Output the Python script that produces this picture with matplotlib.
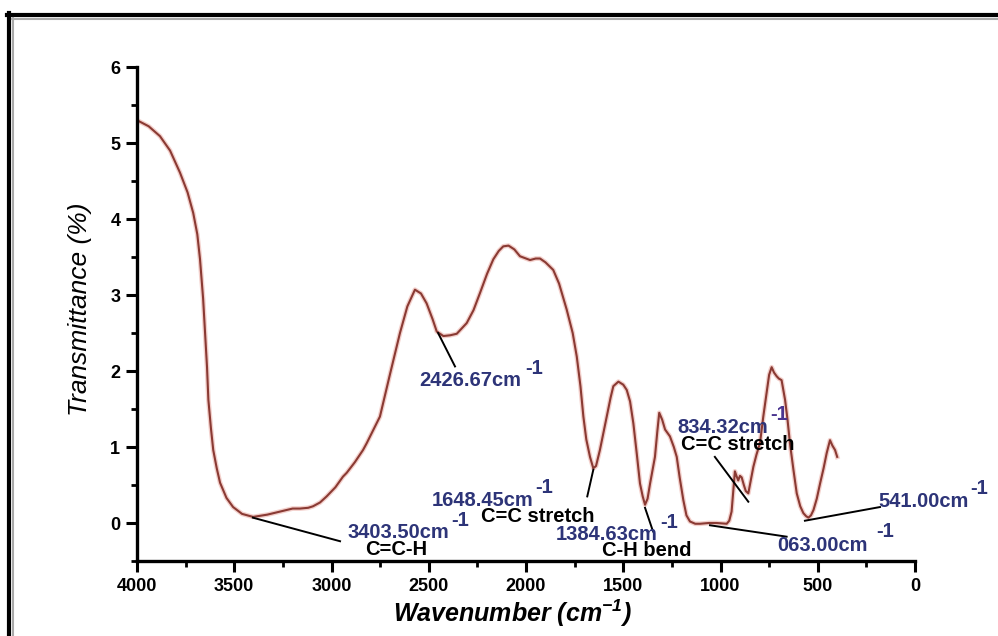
import numpy as np
import matplotlib.pyplot as plt
from matplotlib.lines import Line2D
from matplotlib.ticker import MultipleLocator

plt.rcParams['font.family'] = ['Liberation Sans', 'DejaVu Sans']
plt.rcParams['mathtext.fontset'] = 'custom'
plt.rcParams['mathtext.rm'] = 'Liberation Sans:bold:italic'
plt.rcParams['mathtext.it'] = 'Liberation Sans:bold:italic'
plt.rcParams['mathtext.bf'] = 'Liberation Sans:bold:italic'

# FTIR spectrum (wavenumber cm^-1, transmittance %)
wavenumber = [4000, 3940, 3882, 3830, 3779, 3740, 3711, 3690, 3676, 3660, 3650, 3640,
              3633, 3620, 3608, 3590, 3573, 3540, 3506, 3460, 3403, 3330, 3265, 3200,
              3162, 3120, 3095, 3059, 3025, 2980, 2941, 2922, 2880, 2838, 2819, 2790,
              2751, 2700, 2648, 2610, 2571, 2540, 2511, 2480, 2459, 2425, 2390, 2356,
              2305, 2270, 2236, 2200, 2168, 2140, 2117, 2090, 2060, 2031, 1979, 1950,
              1928, 1900, 1860, 1830, 1791, 1760, 1739, 1720, 1705, 1690, 1671, 1654,
              1640, 1620, 1585, 1565, 1551, 1525, 1500, 1482, 1465, 1448, 1430, 1414,
              1400, 1388, 1375, 1362, 1337, 1325, 1315, 1300, 1285, 1260, 1240, 1225,
              1210, 1191, 1175, 1157, 1130, 1105, 1060, 1020, 968, 955, 943, 935, 926,
              918, 909, 900, 891, 880, 870, 857, 845, 831, 815, 797, 780, 763, 750, 737,
              725, 711, 700, 686, 668, 655, 643, 625, 608, 590, 574, 560, 548, 535, 522,
              505, 488, 470, 454, 437, 425, 411, 400]
transmittance = [5.30, 5.22, 5.09, 4.90, 4.61, 4.35, 4.08, 3.80, 3.47, 2.95, 2.50, 2.05,
                 1.62, 1.25, 0.96, 0.72, 0.53, 0.33, 0.21, 0.12, 0.08, 0.11, 0.15, 0.19,
                 0.19, 0.20, 0.22, 0.27, 0.35, 0.47, 0.61, 0.66, 0.80, 0.96, 1.05, 1.20,
                 1.40, 1.95, 2.50, 2.85, 3.07, 3.02, 2.89, 2.68, 2.52, 2.46, 2.47, 2.49,
                 2.63, 2.80, 3.03, 3.28, 3.47, 3.58, 3.64, 3.65, 3.60, 3.51, 3.46, 3.48,
                 3.48, 3.43, 3.33, 3.15, 2.81, 2.50, 2.19, 1.80, 1.40, 1.10, 0.87, 0.72,
                 0.75, 0.96, 1.40, 1.65, 1.80, 1.86, 1.82, 1.75, 1.60, 1.31, 0.90, 0.52,
                 0.35, 0.24, 0.32, 0.52, 0.87, 1.20, 1.45, 1.36, 1.23, 1.14, 1.00, 0.87,
                 0.60, 0.30, 0.10, 0.02, -0.01, -0.01, 0.00, 0.00, -0.01, 0.03, 0.15, 0.40,
                 0.68, 0.62, 0.56, 0.62, 0.60, 0.50, 0.42, 0.39, 0.55, 0.74, 0.90, 1.05,
                 1.40, 1.71, 1.95, 2.05, 1.98, 1.93, 1.90, 1.88, 1.62, 1.35, 1.05, 0.70,
                 0.39, 0.22, 0.13, 0.09, 0.07, 0.10, 0.17, 0.32, 0.52, 0.72, 0.92, 1.09,
                 1.02, 0.96, 0.87]

line_color = '#8a3a33'
blue = '#2d3478'

fig = plt.figure(figsize=(9.98, 6.36), dpi=100)
ax = fig.add_axes([137/998, 1-561/636, (915-137)/998, (561-67)/636])

ax.plot(wavenumber, transmittance, color='#e8a39a', lw=3.4, alpha=0.5)
ax.plot(wavenumber, transmittance, color=line_color, lw=1.5)

ax.set_xlim(4000, 0)
ax.set_ylim(-0.5, 6)
ax.xaxis.set_major_locator(MultipleLocator(500))
ax.xaxis.set_minor_locator(MultipleLocator(250))
ax.yaxis.set_major_locator(MultipleLocator(1))
ax.yaxis.set_minor_locator(MultipleLocator(0.5))
for s in ['top', 'right']:
    ax.spines[s].set_visible(False)
for s in ['left', 'bottom']:
    ax.spines[s].set_linewidth(2.4)
ax.tick_params(which='major', length=8, width=2.2, direction='out', labelsize=13, pad=4)
ax.tick_params(which='minor', length=4.5, width=2, direction='out')
for lab in ax.get_xticklabels() + ax.get_yticklabels():
    lab.set_fontweight('bold')

ax.set_xlabel('Wavenumber (cm$^{-1}$)', fontsize=18, fontweight='bold', style='italic')
ax.xaxis.set_label_coords((512 - 137) / 778, -0.075)
ax.set_ylabel('Transmittance (%)', fontsize=19, style='italic')
ax.yaxis.set_label_coords(-0.058, 0.51)

# peak annotations
tkw = dict(fontsize=14.5, fontweight='bold', clip_on=False)
def label(txt, x, y, color=blue, ha='center'):
    ax.text(x, y, txt, color=color, ha=ha, va='center', **tkw)

def leader(x0, y0, x1, y1):
    ax.plot([x0, x1], [y0, y1], color='black', lw=1.4, clip_on=False)

label('2426.67cm', 2288, 1.87)
label('-1', 2005, 2.03, ha='left')
leader(2452, 2.50, 2365, 2.06)

label('3403.50cm', 2658, -0.13)
label('-1', 2382, 0.03, ha='left')
label('C=C-H', 2665, -0.35, color='black')
leader(3404, 0.07, 2956, -0.24)

label('1648.45cm', 2224, 0.29)
label('-1', 1954, 0.47, ha='left')
label('C=C stretch', 1941, 0.09, color='black')
leader(1654, 0.70, 1685, 0.35)

label('1384.63cm', 1585, -0.15)
label('-1', 1311, 0.01, ha='left')
label('C-H bend', 1380, -0.36, color='black')
leader(1388, 0.20, 1347, -0.11)

label('834.32cm', 986, 1.26)
label('-1', 745, 1.43, color='#4a3590', ha='left')
label('C=C stretch', 913, 1.03, color='black')
leader(1029, 0.87, 857, 0.28)

label('063.00cm', 476, -0.29)
label('-1', 200, -0.11, ha='left')
leader(1054, -0.03, 660, -0.18)

label('541.00cm', -46, 0.28)
label('-1', -283, 0.46, ha='left')
leader(566, 0.03, 180, 0.21)

# outer frame
W, H = 998, 636
fig.add_artist(Line2D([7/W, 1], [1-14.5/H, 1-14.5/H], color='black', lw=3))
fig.add_artist(Line2D([8.5/W, 8.5/W], [0, 1-13/H], color='black', lw=3))
fig.add_artist(Line2D([12/W, 1], [1-19/H, 1-19/H], color='#aaaaaa', lw=1.5))
fig.add_artist(Line2D([12.5/W, 12.5/W], [0, 1-18/H], color='#aaaaaa', lw=1.5))

fig.savefig('out.png', dpi=100)
